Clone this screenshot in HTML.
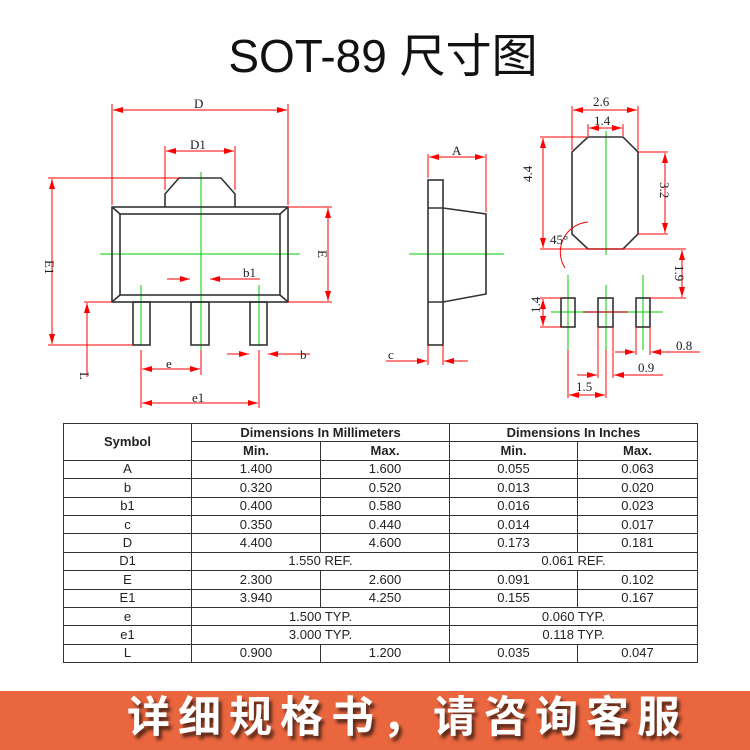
<!DOCTYPE html>
<html><head><meta charset="utf-8"><style>
body{margin:0;width:750px;height:750px;background:#fff;overflow:hidden;position:relative;font-family:"Liberation Sans",sans-serif}
.title{position:absolute;top:30px;left:0;width:766px;text-align:center;font-size:46px;line-height:52px;font-family:"Liberation Sans","Noto Sans CJK SC",sans-serif;color:#111}
table{position:absolute;left:63px;top:423px;width:635px;border-collapse:collapse;font-size:13px;color:#222}
td{border:1px solid #333;text-align:center;height:17.4px;padding:0;line-height:16px}
.h td{font-weight:bold}
.banner{position:absolute;left:0;top:691px;width:750px;height:59px;background:#e9663f}
.banner div{position:absolute;left:127px;top:2px;font-size:43px;line-height:50px;letter-spacing:8px;color:#fff;font-family:"Liberation Sans","Noto Sans CJK SC",sans-serif;font-weight:bold;text-shadow:3px 4px 3px #5a2a1a;white-space:nowrap}
</style></head><body>
<div class="title">SOT-89 尺寸图</div>
<svg width="750" height="420" style="position:absolute;left:0;top:0" font-family="Liberation Serif,serif" font-size="13">
<defs><marker id="a" markerWidth="10" markerHeight="6" refX="10" refY="3" orient="auto-start-reverse" markerUnits="userSpaceOnUse"><path d="M0,0L10,3L0,6z" fill="#f00"/></marker></defs>
<g stroke="#0c0" stroke-width="1">
<line x1="201" y1="172" x2="201" y2="355"/><line x1="100" y1="254" x2="300" y2="254"/>
<line x1="141" y1="285" x2="141" y2="345"/><line x1="259" y1="285" x2="259" y2="345"/>
<line x1="409" y1="254" x2="504" y2="254"/>
<line x1="606" y1="131" x2="606" y2="255"/>
<line x1="568" y1="275" x2="568" y2="350"/><line x1="606" y1="285" x2="606" y2="350"/><line x1="643" y1="275" x2="643" y2="350"/>
<line x1="551" y1="312" x2="663" y2="312"/>
</g>
<line x1="583" y1="312" x2="628" y2="312" stroke="#b33" stroke-width="1.5"/>
<g stroke="#333" stroke-width="1.6" fill="none">
<rect x="112" y="207" width="176" height="95"/><rect x="120" y="214" width="160" height="81"/>
<path d="M112,207L120,214M288,207L280,214M112,302L120,295M288,302L280,295"/>
<path d="M165,207V194L179,178H221L235,194V207"/>
<rect x="133" y="302" width="17" height="43"/><rect x="191" y="302" width="18" height="43"/><rect x="250" y="302" width="17" height="43"/>
<rect x="428" y="180" width="15" height="165"/>
<path d="M428,208H443L486,214V294L443,302H428"/>
<path d="M588,137H623L638,152V234L623,249H588L572,234V152Z"/>
<rect x="561" y="298" width="14" height="29"/><rect x="598" y="298" width="15" height="29"/><rect x="636" y="298" width="14" height="29"/>
</g>
<g stroke="#f00" stroke-width="1" fill="none">
<line x1="112" y1="104" x2="112" y2="205"/><line x1="288" y1="104" x2="288" y2="205"/>
<line x1="113" y1="110" x2="287" y2="110" marker-start="url(#a)" marker-end="url(#a)"/>
<line x1="165" y1="146" x2="165" y2="190"/><line x1="235" y1="146" x2="235" y2="190"/>
<line x1="166" y1="151" x2="234" y2="151" marker-start="url(#a)" marker-end="url(#a)"/>
<line x1="48" y1="178" x2="179" y2="178"/><line x1="48" y1="345" x2="133" y2="345"/>
<line x1="52" y1="179" x2="52" y2="344" marker-start="url(#a)" marker-end="url(#a)"/>
<line x1="84" y1="302" x2="112" y2="302"/>
<line x1="87" y1="303" x2="87" y2="377" marker-start="url(#a)"/>
<line x1="288" y1="207" x2="332" y2="207"/><line x1="288" y1="302" x2="332" y2="302"/>
<line x1="328" y1="208" x2="328" y2="301" marker-start="url(#a)" marker-end="url(#a)"/>
<line x1="141" y1="350" x2="141" y2="408"/><line x1="201" y1="350" x2="201" y2="375"/><line x1="259" y1="350" x2="259" y2="408"/>
<line x1="142" y1="369" x2="200" y2="369" marker-start="url(#a)" marker-end="url(#a)"/>
<line x1="142" y1="403" x2="258" y2="403" marker-start="url(#a)" marker-end="url(#a)"/>
<line x1="167" y1="279" x2="190" y2="279" marker-end="url(#a)"/><line x1="260" y1="279" x2="210" y2="279" marker-end="url(#a)"/>
<line x1="227" y1="354" x2="249" y2="354" marker-end="url(#a)"/><line x1="310" y1="354" x2="268" y2="354" marker-end="url(#a)"/>
<line x1="428" y1="154" x2="428" y2="178"/><line x1="486" y1="154" x2="486" y2="212"/>
<line x1="429" y1="157" x2="485" y2="157" marker-start="url(#a)" marker-end="url(#a)"/>
<line x1="428" y1="345" x2="428" y2="365"/><line x1="443" y1="345" x2="443" y2="365"/>
<line x1="386" y1="361" x2="427" y2="361" marker-end="url(#a)"/><line x1="468" y1="361" x2="444" y2="361" marker-end="url(#a)"/>
<line x1="572" y1="106" x2="572" y2="150"/><line x1="638" y1="106" x2="638" y2="150"/>
<line x1="573" y1="110" x2="637" y2="110" marker-start="url(#a)" marker-end="url(#a)"/>
<line x1="588" y1="124" x2="588" y2="136"/><line x1="623" y1="124" x2="623" y2="136"/>
<line x1="589" y1="128" x2="622" y2="128" marker-start="url(#a)" marker-end="url(#a)"/>
<line x1="540" y1="137" x2="588" y2="137"/><line x1="540" y1="249" x2="686" y2="249"/>
<line x1="543" y1="138" x2="543" y2="248" marker-start="url(#a)" marker-end="url(#a)"/>
<line x1="638" y1="152" x2="668" y2="152"/><line x1="638" y1="234" x2="668" y2="234"/>
<line x1="665" y1="153" x2="665" y2="233" marker-start="url(#a)" marker-end="url(#a)"/>
<line x1="650" y1="298" x2="686" y2="298"/>
<line x1="682" y1="250" x2="682" y2="297" marker-start="url(#a)" marker-end="url(#a)"/>
<line x1="540" y1="298" x2="561" y2="298"/><line x1="540" y1="327" x2="561" y2="327"/>
<line x1="543" y1="299" x2="543" y2="326" marker-start="url(#a)" marker-end="url(#a)"/>
<path d="M588,222A30,30 0 0 0 565,268"/>
<line x1="636" y1="327" x2="636" y2="355"/><line x1="650" y1="327" x2="650" y2="355"/>
<line x1="615" y1="352" x2="635" y2="352" marker-end="url(#a)"/><line x1="700" y1="352" x2="651" y2="352" marker-end="url(#a)"/>
<line x1="598" y1="327" x2="598" y2="378"/><line x1="613" y1="327" x2="613" y2="378"/>
<line x1="577" y1="375" x2="597" y2="375" marker-end="url(#a)"/><line x1="663" y1="375" x2="614" y2="375" marker-end="url(#a)"/>
<line x1="568" y1="350" x2="568" y2="398"/><line x1="606" y1="350" x2="606" y2="398"/>
<line x1="569" y1="395" x2="605" y2="395" marker-start="url(#a)" marker-end="url(#a)"/>
</g>
<g fill="#222">
<text x="194" y="108">D</text><text x="190" y="149">D1</text>
<text x="243" y="277">b1</text><text x="300" y="359">b</text>
<text x="166" y="368">e</text><text x="192" y="402">e1</text>
<text x="45" y="260" transform="rotate(90 45 260)">E1</text>
<text x="80" y="372" transform="rotate(90 80 372)">L</text>
<text x="318" y="250" transform="rotate(90 318 250)">E</text>
<text x="452" y="155">A</text><text x="388" y="359">c</text>
<text x="593" y="106">2.6</text><text x="594" y="125">1.4</text>
<text x="532" y="182" transform="rotate(-90 532 182)">4.4</text>
<text x="660" y="182" transform="rotate(90 660 182)">3.2</text>
<text x="550" y="244">45°</text>
<text x="675" y="265" transform="rotate(90 675 265)">1.9</text>
<text x="540" y="313" transform="rotate(-90 540 313)">1.4</text>
<text x="676" y="350">0.8</text><text x="638" y="372">0.9</text><text x="576" y="391">1.5</text>
</g>
</svg>
<table>
<tr class="h"><td rowspan="2" style="width:127px">Symbol</td><td colspan="2">Dimensions In Millimeters</td><td colspan="2">Dimensions In Inches</td></tr>
<tr class="h"><td style="width:128px">Min.</td><td style="width:128px">Max.</td><td style="width:127px">Min.</td><td>Max.</td></tr>
<tr><td>A</td><td>1.400</td><td>1.600</td><td>0.055</td><td>0.063</td></tr>
<tr><td>b</td><td>0.320</td><td>0.520</td><td>0.013</td><td>0.020</td></tr>
<tr><td>b1</td><td>0.400</td><td>0.580</td><td>0.016</td><td>0.023</td></tr>
<tr><td>c</td><td>0.350</td><td>0.440</td><td>0.014</td><td>0.017</td></tr>
<tr><td>D</td><td>4.400</td><td>4.600</td><td>0.173</td><td>0.181</td></tr>
<tr><td>D1</td><td colspan="2">1.550 REF.</td><td colspan="2">0.061 REF.</td></tr>
<tr><td>E</td><td>2.300</td><td>2.600</td><td>0.091</td><td>0.102</td></tr>
<tr><td>E1</td><td>3.940</td><td>4.250</td><td>0.155</td><td>0.167</td></tr>
<tr><td>e</td><td colspan="2">1.500 TYP.</td><td colspan="2">0.060 TYP.</td></tr>
<tr><td>e1</td><td colspan="2">3.000 TYP.</td><td colspan="2">0.118 TYP.</td></tr>
<tr><td>L</td><td>0.900</td><td>1.200</td><td>0.035</td><td>0.047</td></tr>
</table>
<div class="banner"><div>详细规格书，请咨询客服</div></div>
</body></html>
